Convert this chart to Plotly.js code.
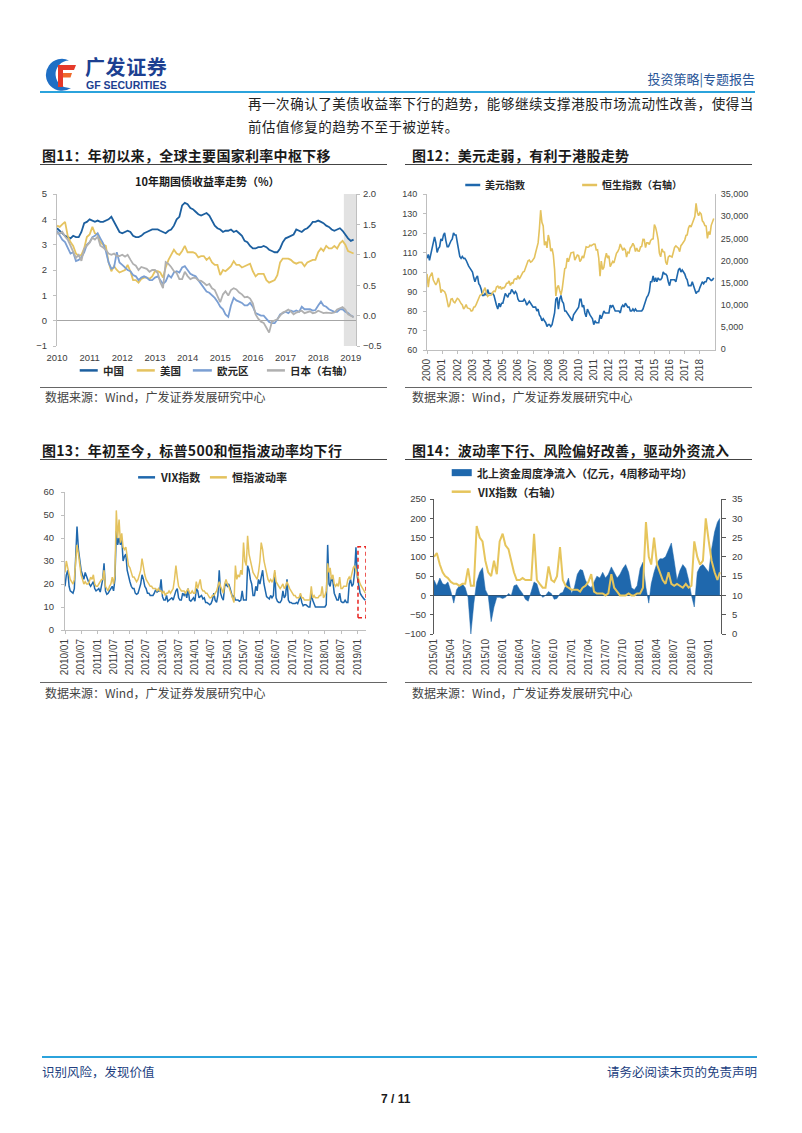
<!DOCTYPE html>
<html lang="zh-CN">
<head>
<meta charset="utf-8">
<title>广发证券 投资策略|专题报告 7/11</title>
<script src="https://cdn.plot.ly/plotly-3.0.1.min.js"></script>
<style>
html,body{margin:0;padding:0;background:#fff;}
body{width:802px;height:1133px;position:relative;overflow:hidden;font-family:"Noto Sans CJK SC","Noto Sans",sans-serif;color:#222;}
.a{position:absolute;white-space:nowrap;}
.hr{position:absolute;}
.ft{position:absolute;white-space:nowrap;font-weight:bold;font-size:14px;line-height:18px;color:#1a1a1a;letter-spacing:0.3px;}
.src{position:absolute;white-space:nowrap;font-size:12px;line-height:14px;color:#444;}
.chart{position:absolute;}
</style>
</head>
<body>
<!-- header -->
<svg class="a" style="left:45px;top:57px" width="32" height="35" viewBox="0 0 32 35">
  <path d="M24 3.5 A16 16 0 1 0 26 31 A13.8 13.8 0 1 1 24 3.5 Z" fill="#1f6fc5"/>
  <path d="M13 8 H31 L29 13 H18 V30 H13 Z" fill="#e5392a"/>
  <path d="M18 16 H27 L25.5 20.5 H18 Z" fill="#ef6a2c"/>
</svg>
<div class="a" style="left:85px;top:56px;font-size:20px;line-height:22px;font-weight:bold;color:#1c3f91;letter-spacing:0.6px">广发证券</div>
<div class="a" style="left:86px;top:80px;font-family:'Liberation Sans',Arial,sans-serif;font-size:10.5px;line-height:11px;font-weight:bold;color:#1c3f91">GF SECURITIES</div>
<div class="a" style="right:47px;top:70px;font-size:13px;line-height:18px;color:#2a5698">投资策略|专题报告</div>
<div class="hr" style="left:40px;top:91px;width:715px;height:2px;background:#2ba3dc"></div>
<div class="a" style="left:248px;top:94px;font-size:13.5px;line-height:18px;letter-spacing:0.55px">再一次确认了美债收益率下行的趋势，能够继续支撑港股市场流动性改善，使得当</div>
<div class="a" style="left:248px;top:117px;font-size:13.5px;line-height:18px;letter-spacing:0.55px">前估值修复的趋势不至于被逆转。</div>

<!-- figure titles -->
<div class="ft" style="left:42px;top:146px">图11：年初以来，全球主要国家利率中枢下移</div>
<div class="hr" style="left:40px;top:164px;width:347px;height:1px;background:#444"></div>
<div class="ft" style="left:412px;top:146px">图12：美元走弱，有利于港股走势</div>
<div class="hr" style="left:405px;top:164px;width:347px;height:1px;background:#444"></div>
<div class="ft" style="left:42px;top:441px">图13：年初至今，标普500和恒指波动率均下行</div>
<div class="hr" style="left:40px;top:459px;width:347px;height:1px;background:#444"></div>
<div class="ft" style="left:412px;top:441px">图14：波动率下行、风险偏好改善，驱动外资流入</div>
<div class="hr" style="left:405px;top:459px;width:347px;height:1px;background:#444"></div>

<!-- chart containers -->
<div id="c11" class="chart" style="left:30px;top:170px;width:370px;height:215px"></div>
<div id="c12" class="chart" style="left:400px;top:170px;width:380px;height:215px"></div>
<div id="c13" class="chart" style="left:30px;top:465px;width:370px;height:215px"></div>
<div id="c14" class="chart" style="left:400px;top:465px;width:380px;height:215px"></div>

<!-- sources -->
<div class="hr" style="left:40px;top:387px;width:347px;height:1px;background:#666"></div>
<div class="src" style="left:45px;top:390px">数据来源：Wind，广发证券发展研究中心</div>
<div class="hr" style="left:405px;top:387px;width:347px;height:1px;background:#666"></div>
<div class="src" style="left:412px;top:390px">数据来源：Wind，广发证券发展研究中心</div>
<div class="hr" style="left:40px;top:682px;width:347px;height:1px;background:#666"></div>
<div class="src" style="left:45px;top:686px">数据来源：Wind，广发证券发展研究中心</div>
<div class="hr" style="left:405px;top:682px;width:347px;height:1px;background:#666"></div>
<div class="src" style="left:412px;top:686px">数据来源：Wind，广发证券发展研究中心</div>

<!-- footer -->
<div class="hr" style="left:42px;top:1056px;width:715px;height:2px;background:#2ba3dc"></div>
<div class="a" style="left:42px;top:1064px;font-size:12.5px;line-height:16px;color:#233f7f">识别风险，发现价值</div>
<div class="a" style="right:45px;top:1064px;font-size:12.5px;line-height:16px;color:#233f7f">请务必阅读末页的免责声明</div>
<div class="a" style="left:381px;top:1091px;font-family:'Liberation Sans',Arial,sans-serif;font-size:12px;line-height:16px;font-weight:bold;color:#1a1a1a">7 / 11</div>

<script>
// ---------------- DATA ----------------
// Figure 11: 10-year government bond yields, monthly from 2010-01 (%)
const f11Start = [2010, 1];
const f11Count = 110;
const chinaYield = [
3.65,3.55,3.45,3.35,3.3,3.25,3.35,3.3,3.3,3.5,3.85,3.9,
4.0,3.95,3.9,3.95,3.9,3.9,3.95,4.0,4.1,3.9,3.7,3.5,
3.45,3.5,3.55,3.5,3.35,3.3,3.3,3.35,3.45,3.5,3.55,3.6,
3.6,3.6,3.55,3.5,3.45,3.55,3.6,3.75,4.0,4.1,4.55,4.65,
4.6,4.45,4.4,4.3,4.2,4.15,4.2,4.25,4.15,3.95,3.75,3.65,
3.6,3.5,3.55,3.55,3.6,3.5,3.55,3.45,3.35,3.15,3.1,2.95,
2.85,2.85,2.9,2.9,2.95,2.9,2.8,2.75,2.7,2.7,2.85,3.1,
3.25,3.3,3.35,3.4,3.6,3.55,3.5,3.6,3.65,3.75,3.9,3.9,
3.95,3.9,3.85,3.75,3.7,3.6,3.55,3.6,3.65,3.55,3.4,3.25,
3.15,3.2];
const usYield = [
3.75,3.7,3.8,3.9,3.35,3.1,2.95,2.65,2.55,2.6,2.85,3.3,
3.4,3.7,3.45,3.4,3.1,3.0,2.95,2.3,1.95,2.15,2.0,1.9,
1.95,2.0,2.2,1.95,1.6,1.6,1.5,1.65,1.7,1.7,1.65,1.75,
1.95,1.95,1.9,1.7,2.1,2.4,2.6,2.8,2.65,2.6,2.75,2.95,
2.7,2.7,2.7,2.65,2.5,2.55,2.55,2.4,2.5,2.3,2.2,2.2,
1.8,2.0,1.95,2.05,2.15,2.35,2.2,2.2,2.1,2.15,2.2,2.25,
1.95,1.75,1.85,1.85,1.85,1.6,1.5,1.55,1.6,1.8,2.3,2.45,
2.45,2.45,2.4,2.3,2.25,2.3,2.3,2.15,2.3,2.35,2.4,2.4,
2.7,2.85,2.75,2.95,2.85,2.85,2.95,2.85,3.05,3.15,3.0,2.75,
2.7,2.65];
const euroYield = [
3.55,3.35,3.2,3.1,2.85,2.65,2.7,2.35,2.4,2.5,2.7,3.0,
3.1,3.3,3.35,3.45,3.25,3.05,2.75,2.3,2.05,2.1,2.7,2.3,
2.2,2.1,2.0,1.95,1.8,1.75,1.6,1.7,1.75,1.7,1.6,1.6,
1.7,1.75,1.6,1.45,1.55,1.8,1.7,1.9,1.95,1.9,2.1,2.15,
2.0,1.85,1.8,1.75,1.6,1.45,1.35,1.15,1.1,1.0,0.9,0.75,
0.55,0.45,0.25,0.15,0.6,0.9,0.8,0.75,0.7,0.6,0.6,0.7,
0.55,0.3,0.25,0.2,0.2,0.05,-0.05,-0.1,-0.1,0.05,0.25,0.3,
0.35,0.3,0.4,0.35,0.4,0.35,0.55,0.45,0.45,0.45,0.4,0.42,
0.6,0.75,0.6,0.55,0.45,0.4,0.35,0.35,0.45,0.45,0.35,0.3,
0.2,0.15];
const japanYield = [
1.35,1.35,1.38,1.3,1.25,1.15,1.05,0.95,1.0,0.9,1.1,1.15,
1.2,1.28,1.25,1.3,1.15,1.12,1.08,1.02,1.0,1.02,0.98,0.98,
1.0,0.97,1.0,0.92,0.85,0.82,0.75,0.8,0.78,0.77,0.72,0.75,
0.75,0.7,0.55,0.45,0.88,0.85,0.8,0.73,0.7,0.6,0.6,0.72,
0.65,0.6,0.62,0.62,0.58,0.57,0.54,0.5,0.52,0.45,0.42,0.32,
0.22,0.35,0.4,0.33,0.42,0.45,0.43,0.38,0.35,0.3,0.31,0.28,
0.2,0.02,-0.05,-0.1,-0.12,-0.2,-0.28,-0.1,-0.08,-0.06,0.0,0.05,
0.07,0.1,0.07,0.02,0.05,0.07,0.08,0.04,0.05,0.07,0.04,0.05,
0.08,0.06,0.04,0.05,0.04,0.04,0.05,0.1,0.12,0.14,0.1,0.02,
0.0,-0.03];
const f11Names = ['中国','美国','欧元区','日本（右轴）'];
const f11Title = '10年期国债收益率走势（%）';
const f11Band = ['2018-10-15','2019-02-28'];

// Figure 12: US dollar index and Hang Seng index, monthly from 2000-01
const f12Start = [2000, 1];
const f12Count = 228;
const usdIndex = [
107,109,106,109,112,114,118,115,110,112,113,117,
116,119,120,116,113,113,115,116,117,120,119,119,
115,112,108,107,108,107,107,106,104,103,102,101,
100,97,95,97,98,94,93,91,88,88,89,88,
91,89,89,89,89,88,85,83,81,84,82,84,
84,87,89,88,87,89,89,91,90,89,90,89,
86,85,85,85,85,86,85,83,84,85,84,83,
82,82,82,80,81,78,77,75,76,75,74,72,
73,73,72,73,77,79,86,87,81,86,88,85,
84,80,80,79,78,77,76,75,78,79,80,81,
82,86,86,82,83,79,77,81,79,78,77,76,
73,75,74,74,74,78,76,78,80,79,79,79,
79,83,82,83,81,80,80,80,80,79,82,83,
82,84,83,82,82,80,80,81,80,81,80,80,
80,80,80,81,83,86,87,88,90,95,95,98,
95,97,95,97,96,96,97,100,99,99,98,95,
93,96,96,96,96,95,99,101,102,100,101,100,
99,97,96,93,93,93,95,93,92,89,90,90,
92,94,95,94,95,95,97,97,96,95.6,96,97];
const hangSeng = [
17000,14000,16200,16800,17300,15600,14900,14500,15100,16100,14800,12800,
13400,13200,13000,12300,11100,9500,10000,11300,11400,10700,10500,11000,
11500,11300,10600,10300,10000,9070,9440,10070,9320,9260,9120,8630,
8720,9490,9580,10130,10900,11230,12190,12320,12580,13290,13900,12680,
11940,12200,12290,12240,12850,13120,13050,14060,14230,13720,14200,13520,
13910,13870,14200,14880,14900,15430,14390,14940,14880,15750,15920,15800,
16660,15860,16270,16970,17390,17540,18320,18960,19960,20110,19650,19800,
20320,20630,21770,23180,23980,27140,31350,28640,27810,23460,24330,22850,
25760,24530,22100,22730,21260,18020,12000,13890,14390,13280,12300,13580,
15520,18170,18380,20570,19720,20960,21750,21820,21870,20120,20610,21240,
21110,19770,20130,21030,20540,22360,23100,23010,23040,23450,23340,23530,
23720,23680,22400,22440,20530,16500,19860,17990,18430,20390,21680,20560,
21090,18630,19440,19800,19480,20840,21640,22030,22660,23730,23020,22300,
22740,22390,20800,21880,21730,22860,23210,23880,23310,22040,22840,22150,
22130,23080,23190,24760,24740,22930,23990,23990,23610,24510,24820,24900,
28130,27420,26250,24640,21670,20850,22640,21990,21910,19680,19110,20780,
21070,20820,20790,21890,22980,23300,22930,22790,22000,23360,23740,24110,
24620,25660,25760,27320,27970,27550,28250,29180,29920,32890,30840,30090,
30810,30470,28960,28580,27890,27790,24980,26510,25850,27940,28630,29500];
const f12Names = ['美元指数','恒生指数（右轴）'];

// Figure 13: VIX and Hang Seng volatility, twice a month (1st, 16th) from 2010-01
const f13Start = [2010, 1];
const f13Count = 223;
const vixLevel = [
19,24,26,19,17,16.5,16,18,33,45,35,29,26,24,22,25,23,22,20,19,20,21,18,17,
17.5,18,16.5,19,22,29,17,15.5,16,17,18,19,17,22,43,37,40,37,40,30,32,33,26,23,
21,19,18,18,16,15.5,16,18,20,24,22,19,18,16,16,15,15,15,16,17.5,16.5,17,17,22,
14.5,13,13,15,12.5,13,13.5,14,13,15.5,17,18,14,13,13,16,15,16,14,18,13,12.5,13.5,14,
12.5,18,17,14,14.5,15,13.5,14,12,12,11.5,11,11.5,13,16,13,12,15,26,16,14,13,19,20,
19,20,18,15,14,15,13,13,13,12.5,13,17,13,13,13,28,26,22,20,15,15,19,17,22,
20,23,26,20,17,14.5,14,13.5,15,14,15,25,14,12.5,12,12,13,17,14,15,22,13,12,12,
11.5,11.5,11.5,12,11.5,13,15,12,10.5,11,11,10.5,10,10,16,13,11,10,10,10,10,10,10,10,
10,11,37,20,19,23,21,16,14,13,13,16,12.5,12,12,13,12,12,20,22,19,20,25,36,
23,19,16,15,14,13.5,13];
const hsiVol = [
25,30,27,24,22,21,20,22,28,37,33,27,24,22,20,21,20,20,21,23,22,24,20,19,
19,20,21,22,22,26,19,18,17,19,20,23,20,24,52,40,48,38,42,36,35,36,31,28,
27,25,23,23,22,21,22,24,26,31,27,24,22,21,20,19,19,18,18,18,17,18,17,17,
16,17,15,16,16,17,16,17,18,22,28,23,19,18,17,17,17,16,17,18,16,16,17,16,
16,21,18,20,22,18,17,17,16,16,15,14,14,15,15,16,17,19,21,19,17,16,20,22,
20,19,17,15,13,12,28,22,24,23,26,24,38,30,28,41,33,30,27,25,24,23,22,25,
30,38,35,30,27,24,22,21,22,21,22,26,21,20,19,18,19,20,18,19,21,19,18,17,
16,15,15,14,14,14,16,14,14,13,13,13,13,13,19,14,15,14,14,14,15,15,19,14,
15,17,29,25,27,22,24,20,19,20,19,23,18,18,19,19,19,22,23,22,25,27,28,26,
24,21,20,19,18,17,16];
const f13Names = ['VIX指数','恒指波动率'];
const f13Box = {x0:'2019-01-08', x1:'2019-04-08', y0:5.3, y1:36.2};

// Figure 14: Northbound weekly net inflow (4-week MA, 100m CNY) and VIX, twice a month from 2015-01
const f14Start = [2015, 1];
const f14Count = 101;
const northFlow = [
40,25,45,30,28,35,10,-20,15,25,30,20,-5,-100,-20,35,60,72,15,0,-68,-30,-5,-5,
-8,-5,5,0,25,28,15,5,-10,-15,10,35,30,5,-5,0,10,5,-10,-8,5,8,25,45,
5,20,55,67,65,40,25,20,35,50,45,60,45,55,74,60,45,55,70,80,60,20,15,25,
70,86,20,-20,30,60,85,95,95,100,120,136,90,40,65,80,70,40,0,-30,60,75,80,70,
60,120,165,190,200];
const vixWeekly = [
20,21,18,16,15,14.5,13.5,13,13,12.5,13,13,17,12.5,12.5,28,25,24,19,16,15,19,15.5,24,
26,23,22,19,16,14,14,14.5,14,14,14,26,14,13,12,12,17.5,14,13.5,15,22.5,14,12.5,12,
11.5,11.5,11.5,11,12,12.5,13.5,15.5,11,10.5,10.5,10.5,10,10.5,15.5,12,11,10,10,10,10.5,10,10,10.5,
10.5,12,29,20,18,25,18,16,14,13,16,13,12.5,13,12.5,12,13,12,12.5,24,20,18,19,30,
24,19,16,14,16];
const f14Names = ['北上资金周度净流入（亿元，4周移动平均）','VIX指数（右轴）'];

// ---------------- HELPERS ----------------
function pad(n){return (n<10?'0':'')+n;}
function monthlyDates(start, n){
  const out=[]; let y=start[0], m=start[1];
  for(let i=0;i<n;i++){ out.push(y+'-'+pad(m)+'-01'); m++; if(m>12){m=1;y++;} }
  return out;
}
function semiMonthlyDates(start, n){
  const out=[]; let y=start[0], m=start[1], half=0;
  for(let i=0;i<n;i++){
    out.push(y+'-'+pad(m)+'-'+(half?'16':'01'));
    half=1-half; if(!half){ m++; if(m>12){m=1;y++;} }
  }
  return out;
}
// geometry helper: box in page pixels -> plotly margins + paper coords
function geo(b){
  return {
    margin:{l:b.pl-b.left, r:b.left+b.w-b.pr, t:b.pt-b.top, b:b.top+b.h-b.pb, pad:0},
    px:x=>(x-b.pl)/(b.pr-b.pl),
    py:y=>(b.pb-y)/(b.pb-b.pt),
    w:b.w, h:b.h
  };
}
const FONT = "'Liberation Sans', Arial, 'Noto Sans CJK SC', sans-serif";
const TICKC = '#404040';
function legendItems(g, items, fontSize){
  const shapes=[], anns=[];
  items.forEach(it=>{
    if(it.kind==='rect'){
      shapes.push({type:'rect',xref:'paper',yref:'paper',x0:g.px(it.x0),x1:g.px(it.x1),
        y0:g.py(it.y+3.5),y1:g.py(it.y-3.5),fillcolor:it.color,line:{width:0}});
    } else {
      shapes.push({type:'line',xref:'paper',yref:'paper',x0:g.px(it.x0),x1:g.px(it.x1),
        y0:g.py(it.y),y1:g.py(it.y),line:{color:it.color,width:2.5}});
    }
    anns.push({xref:'paper',yref:'paper',x:g.px(it.tx),y:g.py(it.y),xanchor:'left',yanchor:'middle',
      text:it.text,showarrow:false,font:{size:fontSize,color:'#262626',family:"'Noto Sans CJK SC', sans-serif",weight:'bold'}});
  });
  return {shapes, anns};
}
const cfg={displayModeBar:false,staticPlot:true};

// ---------------- FIGURE 11 ----------------
(function(){
  const g=geo({left:30,top:170,w:370,h:215,pl:57.3,pr:356,pt:194.3,pb:345.7});
  const x=monthlyDates(f11Start,f11Count);
  const cols=['#1c5f9f','#e5c360','#7b9fd3','#b0b0b0'];
  const data=[
    {x:x,y:chinaYield,name:f11Names[0],type:'scatter',mode:'lines',line:{color:cols[0],width:1.8}},
    {x:x,y:usYield,name:f11Names[1],type:'scatter',mode:'lines',line:{color:cols[1],width:1.8}},
    {x:x,y:euroYield,name:f11Names[2],type:'scatter',mode:'lines',line:{color:cols[2],width:1.8}},
    {x:x,y:japanYield,name:f11Names[3],type:'scatter',mode:'lines',yaxis:'y2',line:{color:cols[3],width:1.8}}
  ];
  const lg=legendItems(g,[
    {x0:80,x1:98,tx:101,y:370,color:cols[0],text:f11Names[0]},
    {x0:137,x1:155,tx:158,y:370,color:cols[1],text:f11Names[1]},
    {x0:193,x1:212,tx:215,y:370,color:cols[2],text:f11Names[2]},
    {x0:267,x1:285,tx:288,y:370,color:cols[3],text:f11Names[3]}
  ],10.5);
  const layout={
    width:g.w,height:g.h,margin:g.margin,showlegend:false,
    paper_bgcolor:'rgba(0,0,0,0)',plot_bgcolor:'rgba(0,0,0,0)',
    font:{family:FONT,size:9.5,color:TICKC},
    xaxis:{type:'date',range:['2010-01-01',f11Band[1]],dtick:'M12',tick0:'2010-01-01',tickformat:'%Y',
      showgrid:false,zeroline:false,showline:false,ticks:'',ticklabelstandoff:4,tickfont:{size:9.5,color:TICKC}},
    yaxis:{range:[-1,5],dtick:1,showgrid:false,zeroline:true,zerolinecolor:'#a6a6a6',zerolinewidth:1,
      showline:true,linecolor:'#bfbfbf',ticks:'outside',ticklen:3,tickcolor:'#bfbfbf',ticklabelstandoff:4,tickfont:{size:9.5,color:TICKC}},
    yaxis2:{range:[-0.5,2.0],dtick:0.5,tickformat:'.1f',overlaying:'y',side:'right',showgrid:false,zeroline:false,
      showline:true,linecolor:'#bfbfbf',ticks:'outside',ticklen:3,tickcolor:'#bfbfbf',ticklabelstandoff:1,tickfont:{size:9.5,color:TICKC}},
    shapes:[{type:'rect',xref:'x',yref:'paper',x0:f11Band[0],x1:f11Band[1],y0:0,y1:1,fillcolor:'#e2e2e2',line:{width:0},layer:'below'}].concat(lg.shapes),
    annotations:[{xref:'paper',yref:'paper',x:g.px(208),y:g.py(181.7),xanchor:'center',yanchor:'middle',showarrow:false,
      text:f11Title,font:{size:11,color:'#1a1a1a',family:"'Noto Sans CJK SC', sans-serif",weight:'bold'}}].concat(lg.anns)
  };
  Plotly.newPlot('c11',data,layout,cfg);
})();

// ---------------- FIGURE 12 ----------------
(function(){
  const g=geo({left:400,top:170,w:380,h:215,pl:426.7,pr:715,pt:194,pb:350});
  const x=monthlyDates(f12Start,f12Count);
  const cols=['#1f68ad','#e4c25e'];
  const data=[
    {x:x,y:usdIndex,name:f12Names[0],type:'scatter',mode:'lines',line:{color:cols[0],width:1.6}},
    {x:x,y:hangSeng,name:f12Names[1],type:'scatter',mode:'lines',yaxis:'y2',line:{color:cols[1],width:1.6}}
  ];
  const lg=legendItems(g,[
    {x0:465,x1:480,tx:483,y:185,color:cols[0],text:f12Names[0]},
    {x0:582,x1:597,tx:600,y:185,color:cols[1],text:f12Names[1]}
  ],10);
  const layout={
    width:g.w,height:g.h,margin:g.margin,showlegend:false,
    paper_bgcolor:'rgba(0,0,0,0)',plot_bgcolor:'rgba(0,0,0,0)',
    font:{family:FONT,size:9,color:TICKC},
    xaxis:{type:'date',range:['2000-01-01','2018-12-31'],dtick:'M12',tick0:'2000-01-01',tickformat:'%Y',tickangle:-90,
      showgrid:false,zeroline:false,showline:true,linecolor:'#bfbfbf',ticks:'outside',ticklen:3,tickcolor:'#bfbfbf',
      ticklabelstandoff:1,tickfont:{size:10,color:TICKC}},
    yaxis:{range:[60,140],dtick:10,showgrid:false,zeroline:false,showline:true,linecolor:'#bfbfbf',
      ticks:'outside',ticklen:3,tickcolor:'#bfbfbf',ticklabelstandoff:4,tickfont:{size:9,color:TICKC}},
    yaxis2:{range:[-150,35000],tickvals:[0,5000,10000,15000,20000,25000,30000,35000],
      ticktext:['0','5,000','10,000','15,000','20,000','25,000','30,000','35,000'],
      overlaying:'y',side:'right',showgrid:false,zeroline:false,
      showline:true,linecolor:'#bfbfbf',ticks:'',ticklabelstandoff:3,tickfont:{size:9,color:TICKC}},
    shapes:lg.shapes,annotations:lg.anns
  };
  Plotly.newPlot('c12',data,layout,cfg);
})();

// ---------------- FIGURE 13 ----------------
(function(){
  const g=geo({left:30,top:465,w:370,h:215,pl:64.7,pr:366.5,pt:491.7,pb:630});
  const x=semiMonthlyDates(f13Start,f13Count);
  const cols=['#1f68ad','#e4c25e'];
  const data=[
    {x:x,y:vixLevel,name:f13Names[0],type:'scatter',mode:'lines',line:{color:cols[0],width:1.5}},
    {x:x,y:hsiVol,name:f13Names[1],type:'scatter',mode:'lines',line:{color:cols[1],width:1.5}}
  ];
  const lg=legendItems(g,[
    {x0:138,x1:155,tx:158,y:477,color:cols[0],text:f13Names[0]},
    {x0:210,x1:227,tx:230,y:477,color:cols[1],text:f13Names[1]}
  ],11);
  const layout={
    width:g.w,height:g.h,margin:g.margin,showlegend:false,
    paper_bgcolor:'rgba(0,0,0,0)',plot_bgcolor:'rgba(0,0,0,0)',
    font:{family:FONT,size:9,color:TICKC},
    xaxis:{type:'date',range:['2010-01-01',f13Box.x1],dtick:'M6',tick0:'2010-01-01',tickformat:'%Y/%m',tickangle:-90,
      showgrid:false,zeroline:false,showline:true,linecolor:'#bfbfbf',ticks:'outside',ticklen:3,tickcolor:'#bfbfbf',
      ticklabelstandoff:1,tickfont:{size:10,color:TICKC}},
    yaxis:{range:[0,60],dtick:10,showgrid:false,zeroline:false,showline:true,linecolor:'#bfbfbf',
      ticks:'outside',ticklen:3,tickcolor:'#bfbfbf',ticklabelstandoff:5,tickfont:{size:9.5,color:TICKC}},
    shapes:[{type:'rect',xref:'x',yref:'y',x0:f13Box.x0,x1:f13Box.x1,y0:f13Box.y0,y1:f13Box.y1,
      line:{color:'#e8231f',width:1.5,dash:'4px,3px'},fillcolor:'rgba(0,0,0,0)'}].concat(lg.shapes),
    annotations:lg.anns
  };
  Plotly.newPlot('c13',data,layout,cfg);
})();

// ---------------- FIGURE 14 ----------------
(function(){
  const g=geo({left:400,top:465,w:380,h:215,pl:434.3,pr:721,pt:499.3,pb:634});
  const x=semiMonthlyDates(f14Start,f14Count);
  const cols=['#1f68ad','#e6c55c'];
  const data=[
    {x:x,y:northFlow,name:f14Names[0],type:'scatter',mode:'lines',fill:'tozeroy',fillcolor:cols[0],
      line:{color:cols[0],width:0.5}},
    {x:x,y:vixWeekly,name:f14Names[1],type:'scatter',mode:'lines',yaxis:'y2',line:{color:cols[1],width:2}}
  ];
  const lg=legendItems(g,[
    {kind:'rect',x0:452,x1:472,tx:475,y:473,color:cols[0],text:f14Names[0]},
    {x0:452,x1:471,tx:475,y:492,color:cols[1],text:f14Names[1]}
  ],11);
  const layout={
    width:g.w,height:g.h,margin:g.margin,showlegend:false,
    paper_bgcolor:'rgba(0,0,0,0)',plot_bgcolor:'rgba(0,0,0,0)',
    font:{family:FONT,size:9,color:TICKC},
    xaxis:{type:'date',range:['2015-01-01','2019-03-07'],dtick:'M3',tick0:'2015-01-01',tickformat:'%Y/%m',tickangle:-90,
      showgrid:false,zeroline:false,showline:false,ticks:'',ticklabelstandoff:2,tickfont:{size:10,color:TICKC}},
    yaxis:{range:[-100,250],dtick:50,showgrid:false,zeroline:true,zerolinecolor:'#404040',zerolinewidth:1,
      showline:true,linecolor:'#595959',ticks:'outside',ticklen:3,tickcolor:'#595959',ticklabelstandoff:2,tickfont:{size:9.5,color:TICKC}},
    yaxis2:{range:[0,35],dtick:5,overlaying:'y',side:'right',showgrid:false,zeroline:false,
      showline:true,linecolor:'#595959',ticks:'outside',ticklen:4,tickcolor:'#595959',ticklabelstandoff:4,tickfont:{size:9.5,color:TICKC}},
    shapes:lg.shapes,annotations:lg.anns
  };
  Plotly.newPlot('c14',data,layout,cfg);
})();
</script>
</body>
</html>
